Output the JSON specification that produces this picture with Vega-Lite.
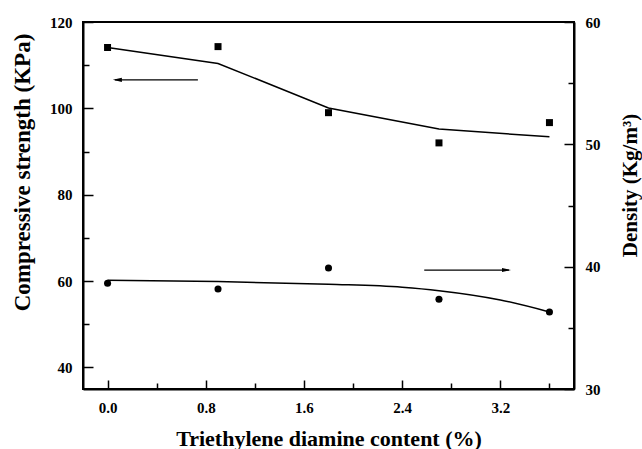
{
  "$schema": "https://vega.github.io/schema/vega-lite/v6.json",
  "width": 491,
  "height": 367,
  "autosize": "none",
  "padding": {"left": 83, "top": 22, "right": 68, "bottom": 60},
  "background": "white",
  "config": {
    "view": {"stroke": "black", "strokeWidth": 2},
    "axis": {
      "labelFont": "Liberation Serif",
      "labelFontWeight": "bold",
      "labelFontSize": 15,
      "labelColor": "black",
      "titleFont": "Liberation Serif",
      "titleFontWeight": "bold",
      "titleFontSize": 21,
      "titleColor": "black",
      "domainColor": "black",
      "domainWidth": 2,
      "tickColor": "black",
      "tickWidth": 1.5,
      "grid": false,
      "labelOverlap": false,
      "labelFlush": false
    }
  },
  "datasets": {
    "strength_pts": [
      {"x": 0.0, "y": 114.1},
      {"x": 0.9, "y": 114.3},
      {"x": 1.8, "y": 99.0},
      {"x": 2.7, "y": 92.0},
      {"x": 3.6, "y": 96.7}
    ],
    "strength_fit": [
      {"x": 0.0, "y": 114.1},
      {"x": 0.9, "y": 110.4},
      {"x": 1.8, "y": 100.1},
      {"x": 2.7, "y": 95.2},
      {"x": 3.6, "y": 93.4}
    ],
    "density_pts": [
      {"x": 0.0, "y": 38.64},
      {"x": 0.9, "y": 38.18},
      {"x": 1.8, "y": 39.89},
      {"x": 2.7, "y": 37.33},
      {"x": 3.6, "y": 36.3}
    ],
    "density_fit": [
      {"x": 0.0, "y": 38.89},
      {"x": 0.9, "y": 38.79},
      {"x": 1.8, "y": 38.56},
      {"x": 2.4, "y": 38.32},
      {"x": 2.7, "y": 38.04},
      {"x": 3.2, "y": 37.28},
      {"x": 3.6, "y": 36.3}
    ],
    "arrow_left": [{"x": 0.736, "x2": 0.06, "hx": 0.08, "y": 106.6}],
    "arrow_right": [{"x": 2.58, "x2": 3.27, "hx": 3.25, "y": 39.72}]
  },
  "layer": [
    {
      "encoding": {
        "x": {
          "field": "x",
          "type": "quantitative",
          "scale": {"domain": [-0.2, 3.8], "nice": false, "zero": false},
          "axis": {
            "orient": "bottom",
            "title": "Triethylene diamine content (%)",
            "titleFontSize": 22,
            "values": [0, 0.8, 1.6, 2.4, 3.2],
            "format": ".1f",
            "tickSize": -9,
            "labelPadding": 20,
            "titleY": 56,
            "titleBaseline": "alphabetic"
          }
        },
        "y": {
          "field": "y",
          "type": "quantitative",
          "scale": {"domain": [35, 120], "nice": false, "zero": false},
          "axis": {
            "orient": "left",
            "title": "Compressive strength (KPa)",
            "titleFontSize": 23,
            "values": [40, 60, 80, 100, 120],
            "tickSize": -10,
            "labelPadding": 21,
            "titleAngle": 270,
            "titleX": -61,
            "titleY": 150,
            "titleAlign": "center",
            "titleBaseline": "middle"
          }
        }
      },
      "layer": [
        {"data": {"name": "strength_fit"}, "mark": {"type": "line", "color": "black", "strokeWidth": 1.5}},
        {"data": {"name": "strength_pts"}, "mark": {"type": "square", "size": 49, "filled": true, "color": "black", "opacity": 1}},
        {"data": {"name": "arrow_left"}, "mark": {"type": "rule", "color": "black", "strokeWidth": 1.2}, "encoding": {"x2": {"field": "x2"}}},
        {"data": {"name": "arrow_left"}, "mark": {"type": "point", "shape": "M1,-0.45L-1,0L1,0.45Z", "size": 81, "filled": true, "color": "black", "opacity": 1}, "encoding": {"x": {"field": "hx", "type": "quantitative"}}}
      ]
    },
    {
      "encoding": {
        "x": {
          "field": "x",
          "type": "quantitative",
          "scale": {"domain": [-0.2, 3.8], "nice": false, "zero": false},
          "axis": null
        },
        "y": {
          "field": "y",
          "type": "quantitative",
          "scale": {"domain": [30, 60], "nice": false, "zero": false},
          "axis": {
            "orient": "right",
            "title": "Density (Kg/m³)",
            "values": [30, 40, 50, 60],
            "tickSize": -10,
            "labelPadding": 21,
            "titleAngle": 270,
            "titleX": 56,
            "titleY": 163,
            "titleAlign": "center",
            "titleBaseline": "middle"
          }
        }
      },
      "layer": [
        {"data": {"name": "density_fit"}, "mark": {"type": "line", "color": "black", "strokeWidth": 1.5, "interpolate": "monotone"}},
        {"data": {"name": "density_pts"}, "mark": {"type": "circle", "size": 50, "color": "black", "opacity": 1}},
        {"data": {"name": "arrow_right"}, "mark": {"type": "rule", "color": "black", "strokeWidth": 1.2}, "encoding": {"x2": {"field": "x2"}}},
        {"data": {"name": "arrow_right"}, "mark": {"type": "point", "shape": "M-1,-0.45L1,0L-1,0.45Z", "size": 81, "filled": true, "color": "black", "opacity": 1}, "encoding": {"x": {"field": "hx", "type": "quantitative"}}}
      ]
    },
    {
      "data": {"name": "strength_pts"},
      "mark": {"type": "point", "opacity": 0},
      "encoding": {
        "x": {
          "field": "x",
          "type": "quantitative",
          "scale": {"domain": [-0.2, 3.8], "nice": false, "zero": false},
          "axis": {
            "orient": "bottom",
            "title": null,
            "values": [0.4, 1.2, 2.0, 2.8, 3.6],
            "labels": false,
            "domain": false,
            "tickSize": -6
          }
        },
        "y": {
          "field": "y",
          "type": "quantitative",
          "scale": {"domain": [35, 120], "nice": false, "zero": false},
          "axis": {
            "orient": "left",
            "title": null,
            "values": [50, 70, 90, 110],
            "labels": false,
            "domain": false,
            "tickSize": -6
          }
        }
      }
    },
    {
      "data": {"name": "density_pts"},
      "mark": {"type": "point", "opacity": 0},
      "encoding": {
        "x": {
          "field": "x",
          "type": "quantitative",
          "scale": {"domain": [-0.2, 3.8], "nice": false, "zero": false},
          "axis": null
        },
        "y": {
          "field": "y",
          "type": "quantitative",
          "scale": {"domain": [30, 60], "nice": false, "zero": false},
          "axis": {
            "orient": "right",
            "title": null,
            "values": [35, 45, 55],
            "labels": false,
            "domain": false,
            "tickSize": -6
          }
        }
      }
    }
  ],
  "resolve": {"scale": {"x": "independent", "y": "independent"}}
}
